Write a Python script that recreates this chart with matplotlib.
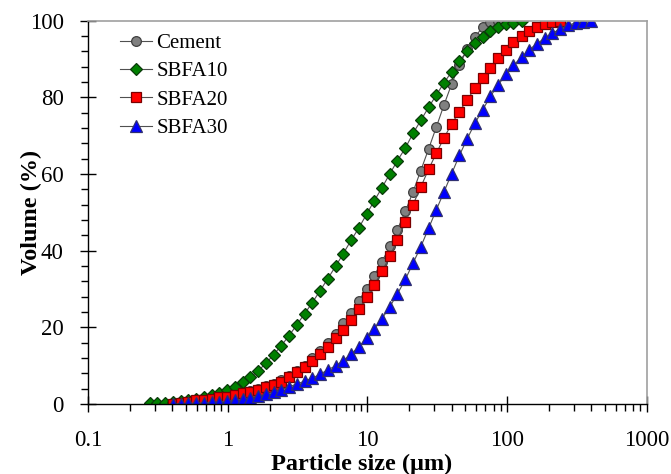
import matplotlib
matplotlib.use("Agg")
import matplotlib.pyplot as plt
from matplotlib.ticker import MultipleLocator, LogLocator, NullFormatter

plt.rcParams['font.family'] = ['Liberation Serif', 'DejaVu Serif']

# particle sizes (um) of the analyser bins
sizes = [0.276, 0.314, 0.357, 0.405, 0.460, 0.523, 0.594, 0.675, 0.767, 0.872,
         0.991, 1.13, 1.28, 1.45, 1.65, 1.88, 2.13, 2.42, 2.75, 3.12,
         3.55, 4.03, 4.58, 5.21, 5.92, 6.72, 7.64, 8.68, 9.86, 11.2,
         12.7, 14.5, 16.4, 18.7, 21.2, 24.1, 27.4, 31.1, 35.3, 40.1,
         45.6, 51.8, 58.9, 66.9, 76.0, 86.4, 98.1, 111, 127, 144,
         163, 186, 211, 240, 272, 310, 352, 400]

# cumulative volume (%)
cement = [0.0, 0.3, 0.6, 0.9, 1.1, 1.4, 1.8, 2.1, 2.5, 3.0,
          3.4, 3.9, 4.6, 5.3, 6.2, 7.3, 8.6, 10.0, 11.9, 13.8,
          16.0, 18.3, 21.0, 23.8, 26.9, 30.1, 33.5, 37.1, 41.2, 45.5,
          50.3, 55.3, 60.9, 66.5, 72.2, 78.0, 83.5, 88.5, 92.6, 95.9,
          98.3, 99.6, 100.0]
sbfa10 = [0.1, 0.2, 0.35, 0.55, 0.8, 1.0, 1.3, 1.7, 2.2, 2.8,
          3.5, 4.3, 5.6, 6.9, 8.6, 10.6, 12.8, 15.2, 17.8, 20.6,
          23.5, 26.4, 29.5, 32.7, 35.9, 39.2, 42.7, 45.9, 49.5, 53.0,
          56.4, 60.1, 63.5, 66.8, 70.6, 74.0, 77.4, 80.6, 83.8, 86.7,
          89.6, 92.0, 94.2, 95.9, 97.4, 98.4, 99.1, 99.5, 100.0]
sbfa20 = [0.0, 0.35, 0.6, 0.9, 1.0, 1.3, 1.7, 1.9, 2.3, 2.8,
          3.2, 3.6, 4.3, 4.9, 5.8, 6.9, 8.2, 9.6, 11.3, 13.0,
          14.8, 17.1, 19.3, 21.9, 24.7, 27.8, 31.0, 34.6, 38.5, 42.9,
          47.4, 52.0, 56.6, 61.2, 65.4, 69.4, 73.1, 76.3, 79.4, 82.4,
          85.1, 87.7, 90.2, 92.4, 94.5, 96.1, 97.4, 98.3, 99.1, 99.6,
          100.0]
sbfa30 = [0.0, 0.05, 0.1, 0.2, 0.3, 0.4, 0.5, 0.7, 0.9, 1.2,
          1.6, 2.0, 2.5, 3.1, 3.7, 4.4, 5.2, 5.9, 6.7, 7.7,
          8.9, 9.9, 11.3, 13.0, 14.9, 17.1, 19.5, 22.2, 25.4, 28.7,
          32.5, 36.7, 41.0, 45.8, 50.6, 55.3, 60.1, 64.9, 69.2, 73.3,
          76.8, 80.3, 83.3, 86.0, 88.4, 90.5, 92.5, 94.0, 95.5, 96.8,
          97.9, 98.8, 99.5, 99.8, 100.0]

fig = plt.figure(figsize=(6.71, 4.74), dpi=100)
ax = fig.add_axes([0.131, 0.148, 0.833, 0.808])

line_kw = dict(color='#505050', lw=0.8, mew=0.9)
ax.plot(sizes[3:3 + len(cement)], cement, marker='o', ms=7, mfc='#808080', mec='#404040',
        label='Cement', **line_kw)
ax.plot(sizes[:len(sbfa10)], sbfa10, marker='D', ms=6, mfc='#008000', mec='#0a3a0a',
        label='SBFA10', **line_kw)
ax.plot(sizes[3:3 + len(sbfa20)], sbfa20, marker='s', ms=6.6, mfc='#ff0000', mec='#7a0000',
        label='SBFA20', **line_kw)
ax.plot(sizes[3:3 + len(sbfa30)], sbfa30, marker='^', ms=8, mfc='#0000ff', mec='#303070',
        label='SBFA30', **line_kw)

ax.set_xscale('log')
ax.set_xlim(0.1, 1000)
ax.set_ylim(0, 100)
ax.set_xticks([0.1, 1, 10, 100, 1000])
ax.set_xticklabels(['0.1', '1', '10', '100', '1000'])
ax.xaxis.set_minor_locator(LogLocator(base=10, subs=range(2, 10), numticks=20))
ax.xaxis.set_minor_formatter(NullFormatter())
ax.set_yticks([0, 20, 40, 60, 80, 100])
ax.yaxis.set_minor_locator(MultipleLocator(4))

ax.tick_params(which='major', direction='inout', length=12, width=1, labelsize=16.5)
ax.tick_params(which='minor', direction='out', length=5, width=1)
ax.tick_params(axis='x', which='major', pad=12.5)
ax.tick_params(axis='y', which='major', pad=11.5)
ax.tick_params(top=False, right=False, which='both')

for s in ['top', 'right']:
    ax.spines[s].set_color('#a0a0a0')
    ax.spines[s].set_linewidth(1.2)
for s in ['left', 'bottom']:
    ax.spines[s].set_color('black')
    ax.spines[s].set_linewidth(1)

ax.set_xlabel('Particle size (μm)', fontsize=17.5, fontweight='bold')
ax.set_ylabel('Volume (%)', fontsize=17.5, fontweight='bold')
ax.xaxis.set_label_coords(0.49, -0.13)
ax.yaxis.set_label_coords(-0.082, 0.5)

ax.legend(loc='upper left', bbox_to_anchor=(0.057, 0.967), frameon=False, fontsize=15,
          borderpad=0, borderaxespad=0, handlelength=1.55, handletextpad=0.2,
          labelspacing=0.42)

fig.savefig('out.png', dpi=100)
